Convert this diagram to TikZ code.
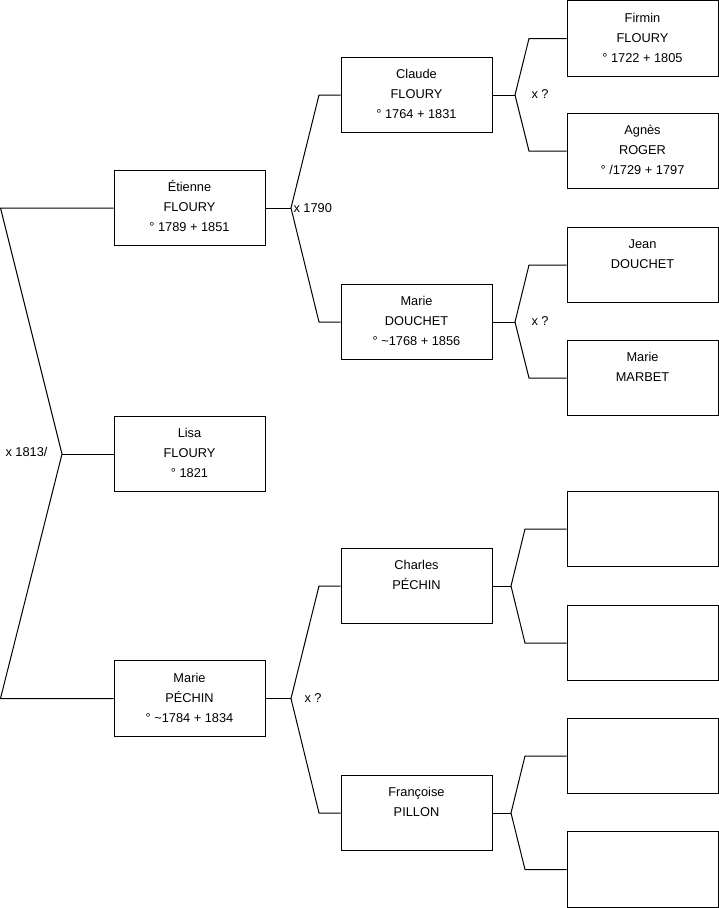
\documentclass[tikz,border=0pt]{standalone}
\usepackage{fontspec}
\setmainfont{Liberation Sans}
\begin{document}
\begin{tikzpicture}[x=1pt,y=-1pt,line width=1pt,
  box/.style={draw,minimum width=151pt,minimum height=75.5pt,inner sep=0pt},
  txt/.style={anchor=base,inner sep=0pt,font=\fontsize{12.8}{15}\selectfont},
  lbl/.style={anchor=base west,inner sep=0pt,font=\fontsize{12.8}{15}\selectfont}]
\useasboundingbox (0,0) rectangle (719,908);
% column 1
\node[box] (etienne) at (189.5,208) {};
\node[txt] (etienne1) at ([yshift=-22pt]etienne.north) {Étienne};
\node[txt] (etienne2) at ([yshift=-42pt]etienne.north) {FLOURY};
\node[txt] (etienne3) at ([yshift=-62pt]etienne.north) {° 1789 + 1851};
\node[box] (lisa) at (189.5,454) {};
\node[txt] (lisa1) at ([yshift=-22pt]lisa.north) {Lisa};
\node[txt] (lisa2) at ([yshift=-42pt]lisa.north) {FLOURY};
\node[txt] (lisa3) at ([yshift=-62pt]lisa.north) {° 1821};
\node[box] (mariep) at (189.5,698.5) {};
\node[txt] (mariep1) at ([yshift=-22pt]mariep.north) {Marie};
\node[txt] (mariep2) at ([yshift=-42pt]mariep.north) {PÉCHIN};
\node[txt] (mariep3) at ([yshift=-62pt]mariep.north) {° \textasciitilde1784 + 1834};
% column 2
\node[box] (claude) at (416.5,95) {};
\node[txt] (claude1) at ([yshift=-22pt]claude.north) {Claude};
\node[txt] (claude2) at ([yshift=-42pt]claude.north) {FLOURY};
\node[txt] (claude3) at ([yshift=-62pt]claude.north) {° 1764 + 1831};
\node[box] (maried) at (416.5,322) {};
\node[txt] (maried1) at ([yshift=-22pt]maried.north) {Marie};
\node[txt] (maried2) at ([yshift=-42pt]maried.north) {DOUCHET};
\node[txt] (maried3) at ([yshift=-62pt]maried.north) {° \textasciitilde1768 + 1856};
\node[box] (charles) at (416.5,586) {};
\node[txt] (charles1) at ([yshift=-22pt]charles.north) {Charles};
\node[txt] (charles2) at ([yshift=-42pt]charles.north) {PÉCHIN};
\node[box] (francoise) at (416.5,813) {};
\node[txt] (francoise1) at ([yshift=-22pt]francoise.north) {Françoise};
\node[txt] (francoise2) at ([yshift=-42pt]francoise.north) {PILLON};
% column 3
\node[box] (firmin) at (642.5,38.5) {};
\node[txt] (firmin1) at ([yshift=-22pt]firmin.north) {Firmin};
\node[txt] (firmin2) at ([yshift=-42pt]firmin.north) {FLOURY};
\node[txt] (firmin3) at ([yshift=-62pt]firmin.north) {° 1722 + 1805};
\node[box] (agnes) at (642.5,151) {};
\node[txt] (agnes1) at ([yshift=-22pt]agnes.north) {Agnès};
\node[txt] (agnes2) at ([yshift=-42pt]agnes.north) {ROGER};
\node[txt] (agnes3) at ([yshift=-62pt]agnes.north) {° /1729 + 1797};
\node[box] (jean) at (642.5,265) {};
\node[txt] (jean1) at ([yshift=-22pt]jean.north) {Jean};
\node[txt] (jean2) at ([yshift=-42pt]jean.north) {DOUCHET};
\node[box] (mariem) at (642.5,378) {};
\node[txt] (mariem1) at ([yshift=-22pt]mariem.north) {Marie};
\node[txt] (mariem2) at ([yshift=-42pt]mariem.north) {MARBET};
\node[box] (e1) at (642.5,529) {};
\node[box] (e2) at (642.5,643) {};
\node[box] (e3) at (642.5,756) {};
\node[box] (e4) at (642.5,869.5) {};
% connectors
\coordinate (l0a) at (0.5,208);
\coordinate (f0) at (62,454);
\coordinate (l0b) at (0.5,698.5);
\draw (etienne.west) -- (l0a) -- (f0) -- (l0b) -- (mariep.west);
\draw (f0) -- (lisa.west);
\coordinate (f1) at (291,208);
\coordinate (f1a) at (319,95);
\coordinate (f1b) at (319,322);
\draw (etienne.east) -- (f1);
\draw (claude.west) -- (f1a) -- (f1) -- (f1b) -- (maried.west);
\coordinate (f2) at (515,95);
\coordinate (f2a) at (529,38.5);
\coordinate (f2b) at (529,151);
\draw (claude.east) -- (f2);
\draw (firmin.west) -- (f2a) -- (f2) -- (f2b) -- (agnes.west);
\coordinate (f3) at (515,322);
\coordinate (f3a) at (529,265);
\coordinate (f3b) at (529,378);
\draw (maried.east) -- (f3);
\draw (jean.west) -- (f3a) -- (f3) -- (f3b) -- (mariem.west);
\coordinate (f4) at (291,698.5);
\coordinate (f4a) at (319,586);
\coordinate (f4b) at (319,813);
\draw (mariep.east) -- (f4);
\draw (charles.west) -- (f4a) -- (f4) -- (f4b) -- (francoise.west);
\coordinate (f5) at (511,586);
\coordinate (f5a) at (525,529);
\coordinate (f5b) at (525,643);
\draw (charles.east) -- (f5);
\draw (e1.west) -- (f5a) -- (f5) -- (f5b) -- (e2.west);
\coordinate (f6) at (511,813);
\coordinate (f6a) at (525,756);
\coordinate (f6b) at (525,869.5);
\draw (francoise.east) -- (f6);
\draw (e3.west) -- (f6a) -- (f6) -- (f6b) -- (e4.west);
% labels
\node[lbl] (m0) at (5,456) {x 1813/};
\node[lbl] (m1) at (293,212) {x 1790};
\node[lbl] (m2) at (531,98) {x ?};
\node[lbl] (m3) at (531,325) {x ?};
\node[lbl] (m4) at (304,702) {x ?};
\end{tikzpicture}
\end{document}
